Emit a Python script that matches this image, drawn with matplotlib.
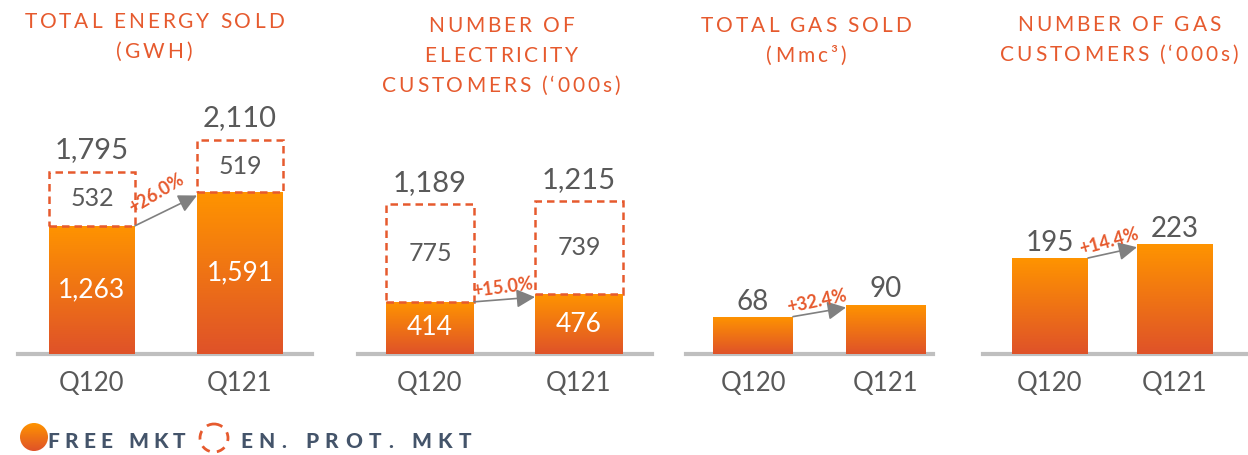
import math
import numpy as np
import matplotlib
matplotlib.use("Agg")
import matplotlib.pyplot as plt
from matplotlib.patches import Circle
from matplotlib.colors import LinearSegmentedColormap
from matplotlib.font_manager import FontProperties

# ---- data -------------------------------------------------------------
periods = ["Q120", "Q121"]
energy_free = [1263, 1591]          # GWh, free market
energy_prot = [532, 519]            # GWh, energy-protection market
elec_free = [414, 476]              # electricity customers ('000s), free market
elec_prot = [775, 739]              # electricity customers ('000s), protected market
gas_volume = [68, 90]               # gas sold (Mmc3)
gas_customers = [195, 223]          # gas customers ('000s)

titles = [
    "TOTAL ENERGY SOLD\n(GWH)",
    "NUMBER OF\nELECTRICITY\nCUSTOMERS (\u2018000s)",
    "TOTAL GAS SOLD\n(Mmc\u00b3)",
    "NUMBER OF GAS\nCUSTOMERS (\u2018000s)",
]
legend_labels = ["FREE MKT", "EN. PROT. MKT"]

# ---- style ------------------------------------------------------------
W, H = 1248, 455
FONT = ["Lato", "DejaVu Sans"]
ACCENT = "#E65A2E"
GREY_TEXT = "#595959"
LEGEND_TEXT = "#44546A"
BASE_GREY = "#BFBFBF"
ARROW_GREY = "#808080"
bar_cmap = LinearSegmentedColormap.from_list("orange", ["#DF5229", "#FF9400"])

BASE_Y = 354      # baseline, pixels from top
PLOT_H = 254      # axes height in pixels

plt.rcParams["font.family"] = FONT

fig = plt.figure(figsize=(W / 100, H / 100), dpi=100)
renderer = fig.canvas.get_renderer()

# overlay in pixel coordinates for titles and legend
ov = fig.add_axes([0, 0, 1, 1])
ov.set_xlim(0, W)
ov.set_ylim(H, 0)
ov.axis("off")
ov.patch.set_alpha(0)


def text_width(s, prop):
    return renderer.get_text_width_height_descent(s, prop, ismath=False)[0]


def tracked_text(ax, x, y, s, track, ha="center", size=15, weight="normal", **kw):
    """Draw a single line with extra letter spacing (track, in pixels)."""
    prop = FontProperties(family=FONT, size=size, weight=weight)
    ref = text_width("I", prop)
    offsets = [0.0] + [text_width(s[:i] + "I", prop) - ref for i in range(1, len(s))]
    total = text_width(s, prop) + track * (len(s) - 1)
    x0 = x - total / 2 if ha == "center" else x
    for i, ch in enumerate(s):
        if ch == " ":
            continue
        ax.text(x0 + offsets[i] + track * i, y, ch, ha="left", va="baseline",
                fontproperties=prop, **kw)


def gradient_fill(ax, patch, extent, zorder=2):
    grad = np.linspace(0, 1, 256).reshape(-1, 1)
    im = ax.imshow(grad, extent=extent, origin="lower", cmap=bar_cmap,
                   aspect="auto", zorder=zorder, interpolation="bilinear")
    im.set_clip_path(patch)
    return im


panels = [
    dict(free=energy_free, prot=energy_prot, left=18, right=312, c=(92, 240), w=86, ymax=2502),
    dict(free=elec_free, prot=elec_prot, left=358, right=652, c=(430, 579), w=88, ymax=2016),
    dict(free=gas_volume, prot=None, left=686, right=933, c=(753, 886), w=80, ymax=462),
    dict(free=gas_customers, prot=None, left=983, right=1248, c=(1050, 1175), w=76, ymax=516),
]
title_x = [154, 501, 806, 1119]
title_base = [28, 32, 32, 31]
pct_offset = [14, 8.5, 8, 8.5]
pct_tilt = [5, 3, 2, 3]

for p, title, tx, tb, pofs, tilt in zip(panels, titles, title_x, title_base,
                                         pct_offset, pct_tilt):
    left, right = p["left"], p["right"]
    c1, c2 = p["c"]
    step = c2 - c1
    ax = fig.add_axes([left / W, (H - BASE_Y) / H, (right - left) / W, PLOT_H / H])
    ax.patch.set_alpha(0)
    x = np.arange(len(periods))
    bw = p["w"] / step
    free = np.array(p["free"])

    bars = ax.bar(x, free, bw, color="none", edgecolor="none", zorder=2)
    for rect in bars:
        x0, y0 = rect.get_x(), rect.get_y()
        gradient_fill(ax, rect, (x0, x0 + rect.get_width(), y0, y0 + rect.get_height()))

    if p["prot"] is not None:
        prot = np.array(p["prot"])
        ax.bar(x, prot, bw, bottom=free, fill=False, edgecolor=ACCENT,
               linewidth=1.8, linestyle=(0, (3, 2)), zorder=3)
        totals = free + prot
        for xi, f, pr, t in zip(x, free, prot, totals):
            ax.text(xi, f / 2, f"{f:,}", ha="center", va="center", color="white",
                    fontsize=19, zorder=4)
            ax.text(xi, f + pr / 2, f"{pr:,}", ha="center", va="center",
                    color=GREY_TEXT, fontsize=18, zorder=4)
            ax.annotate(f"{t:,}", (xi, t), xytext=(0, 6), textcoords="offset points",
                        ha="center", va="bottom", color=GREY_TEXT, fontsize=21)
    else:
        for xi, f in zip(x, free):
            ax.annotate(f"{f:,}", (xi, f), xytext=(0, 1.5), textcoords="offset points",
                        ha="center", va="bottom", color=GREY_TEXT, fontsize=20)

    ax.axhline(0, color=BASE_GREY, lw=3, zorder=1, clip_on=False)

    ax.set_xlim((left - c1) / step, (right - c1) / step)
    ax.set_ylim(0, p["ymax"])
    ax.set_xticks(x, periods)
    ax.tick_params(axis="x", length=0, pad=12, labelsize=18.5, labelcolor=GREY_TEXT)
    ax.set_yticks([])
    for s in ax.spines.values():
        s.set_visible(False)

    # growth arrow between the free-market bars
    px = p["ymax"] / PLOT_H
    start = (x[0] + bw / 2, free[0])
    end = (x[1] - bw / 2, free[1] - 3 * px)
    ax.annotate("", xy=end, xytext=start,
                arrowprops=dict(arrowstyle="-|>,head_length=0.7,head_width=0.35",
                                color=ARROW_GREY, lw=1.2, shrinkA=0, shrinkB=0,
                                mutation_scale=16), zorder=5)
    d0 = ax.transData.transform(start)
    d1 = ax.transData.transform(end)
    ang = math.degrees(math.atan2(d1[1] - d0[1], d1[0] - d0[0])) + tilt
    mid = ((start[0] + end[0]) / 2, (start[1] + end[1]) / 2)
    growth = (free[1] / free[0] - 1) * 100
    r = math.radians(ang)
    ax.annotate(f"+{growth:.1f}%", mid,
                xytext=(-math.sin(r) * pofs, math.cos(r) * pofs),
                textcoords="offset points", rotation=ang, rotation_mode="anchor",
                ha="center", va="center", color=ACCENT, fontsize=13,
                fontweight="bold", zorder=6)

    for k, line in enumerate(title.split("\n")):
        tracked_text(ov, tx, tb + 30 * k, line, 2.9, size=15, color=ACCENT)

# ---- legend -----------------------------------------------------------
lc = Circle((34, 437), 14, facecolor="none", edgecolor="none")
ov.add_patch(lc)
grad = np.linspace(0, 1, 256).reshape(-1, 1)
im = ov.imshow(grad, extent=(20, 48, 451, 423), origin="lower", cmap=bar_cmap,
               aspect="auto", zorder=2)
im.set_clip_path(lc)
ov.set_xlim(0, W)
ov.set_ylim(H, 0)
tracked_text(ov, 47, 448, legend_labels[0], 5.3, ha="left", size=15, weight="black",
             color=LEGEND_TEXT, zorder=3)
ov.add_patch(Circle((214, 438), 14, fill=False, edgecolor=ACCENT, lw=2.0,
                    linestyle=(0, (3.2, 2.6))))
tracked_text(ov, 240, 448, legend_labels[1], 6.7, ha="left", size=15, weight="black",
             color=LEGEND_TEXT, zorder=3)

fig.savefig("out.png", dpi=100)
